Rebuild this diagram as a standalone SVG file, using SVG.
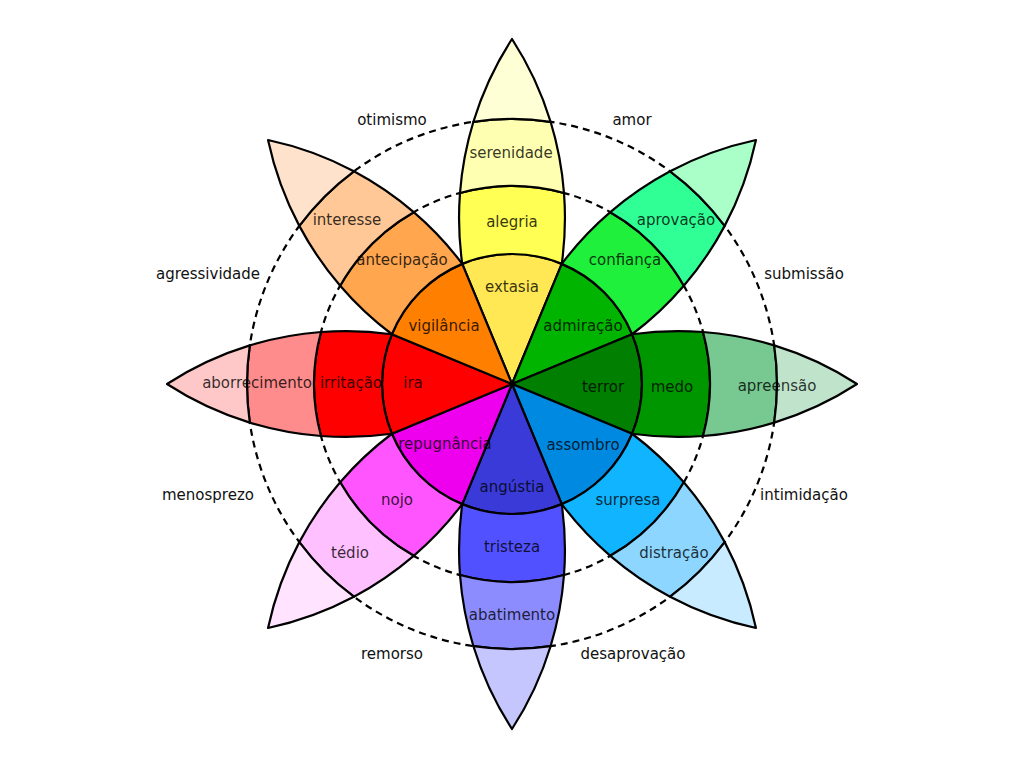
<svg xmlns="http://www.w3.org/2000/svg" width="1024" height="771" viewBox="0 0 1024 771">
<style>
.band{stroke:#000;stroke-width:2.2;stroke-linejoin:round}
.ring{fill:none;stroke:#000;stroke-width:2.2;stroke-dasharray:7 5}
text{font-family:"DejaVu Sans","Liberation Sans",sans-serif;font-size:15px;text-anchor:middle}
.in{fill:#000;fill-opacity:0.8}
.out{fill:#111}
</style>
<defs>
<path id="b1" class="band" d="M0,0 L120.11,-49.75 A130,130 0 0 1 120.11,49.75 Z"/>
<path id="b2" class="band" d="M120.11,-49.75 A329.4,329.4 0 0 1 191,-52 A198,198 0 0 1 191,52 A329.4,329.4 0 0 1 120.11,49.75 A130,130 0 0 0 120.11,-49.75 Z"/>
<path id="b3" class="band" d="M191,-52 A329.4,329.4 0 0 1 262.2,-38.6 A265,265 0 0 1 262.2,38.6 A329.4,329.4 0 0 1 191,52 A198,198 0 0 0 191,-52 Z"/>
<path id="b4" class="band" d="M262.2,-38.6 A329.4,329.4 0 0 1 345,0 A329.4,329.4 0 0 1 262.2,38.6 A265,265 0 0 0 262.2,-38.6 Z"/>
</defs>
<rect width="1024" height="771" fill="#fff"/>
<g id="connectors">
<circle class="ring" cx="512" cy="384" r="198"/>
<circle class="ring" cx="512" cy="384" r="265"/>
</g>
<g id="petal-joy">
<g transform="translate(512 384) rotate(-90)">
<use href="#b1" fill="#FFE854"/><use href="#b2" fill="#FFFF54"/><use href="#b3" fill="#FFFFB1"/><use href="#b4" fill="#FFFFD6"/>
</g>
<text class="in" x="512" y="292">extasia</text>
<text class="in" x="512" y="227">alegria</text>
<text class="in" x="511" y="158">serenidade</text>
</g>
<g id="petal-trust">
<g transform="translate(512 384) rotate(-45)">
<use href="#b1" fill="#00B400"/><use href="#b2" fill="#1EF03C"/><use href="#b3" fill="#30FF96"/><use href="#b4" fill="#AAFFC8"/>
</g>
<text class="in" x="583" y="331">admiração</text>
<text class="in" x="625" y="265">confiança</text>
<text class="in" x="676" y="225">aprovação</text>
</g>
<g id="petal-fear">
<g transform="translate(512 384)">
<use href="#b1" fill="#007F00"/><use href="#b2" fill="#009600"/><use href="#b3" fill="#78C891"/><use href="#b4" fill="#C0E4CB"/>
</g>
<text class="in" x="603" y="392">terror</text>
<text class="in" x="672" y="392">medo</text>
<text class="in" x="777" y="391">apreensão</text>
</g>
<g id="petal-surprise">
<g transform="translate(512 384) rotate(45)">
<use href="#b1" fill="#0089E0"/><use href="#b2" fill="#10B4FF"/><use href="#b3" fill="#8CD6FF"/><use href="#b4" fill="#C8EBFF"/>
</g>
<text class="in" x="583" y="450">assombro</text>
<text class="in" x="628" y="505">surpresa</text>
<text class="in" x="674" y="558">distração</text>
</g>
<g id="petal-sadness">
<g transform="translate(512 384) rotate(90)">
<use href="#b1" fill="#3A3AD8"/><use href="#b2" fill="#5151FF"/><use href="#b3" fill="#8C8CFF"/><use href="#b4" fill="#C6C6FF"/>
</g>
<text class="in" x="512" y="492">angústia</text>
<text class="in" x="512" y="552">tristeza</text>
<text class="in" x="512" y="620">abatimento</text>
</g>
<g id="petal-disgust">
<g transform="translate(512 384) rotate(135)">
<use href="#b1" fill="#EE00EE"/><use href="#b2" fill="#FF55FF"/><use href="#b3" fill="#FFC0FF"/><use href="#b4" fill="#FFE3FF"/>
</g>
<text class="in" x="445" y="449">repugnância</text>
<text class="in" x="397" y="505">nojo</text>
<text class="in" x="350" y="558">tédio</text>
</g>
<g id="petal-anger">
<g transform="translate(512 384) rotate(180)">
<use href="#b1" fill="#FF0000"/><use href="#b2" fill="#FF0000"/><use href="#b3" fill="#FF8C8C"/><use href="#b4" fill="#FFC8C8"/>
</g>
<text class="in" x="413" y="388">ira</text>
<text class="in" x="351" y="388">irritação</text>
<text class="in" x="257" y="388">aborrecimento</text>
</g>
<g id="petal-anticipation">
<g transform="translate(512 384) rotate(-135)">
<use href="#b1" fill="#FF7F00"/><use href="#b2" fill="#FFA64F"/><use href="#b3" fill="#FFC896"/><use href="#b4" fill="#FFE2CB"/>
</g>
<text class="in" x="444" y="331">vigilância</text>
<text class="in" x="402" y="265">antecipação</text>
<text class="in" x="347" y="225">interesse</text>
</g>
<g id="dyads">
<text class="out" x="392" y="125">otimismo</text>
<text class="out" x="632" y="125">amor</text>
<text class="out" x="208" y="279">agressividade</text>
<text class="out" x="804" y="279">submissão</text>
<text class="out" x="208" y="500">menosprezo</text>
<text class="out" x="804" y="500">intimidação</text>
<text class="out" x="392" y="659">remorso</text>
<text class="out" x="633" y="659">desaprovação</text>
</g>
</svg>
